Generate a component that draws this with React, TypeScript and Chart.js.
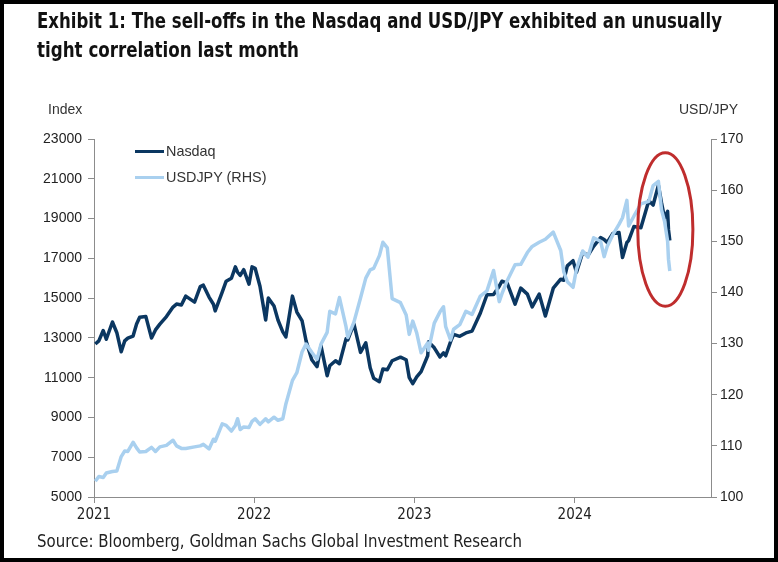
import React, { useEffect, useLayoutEffect, useRef } from "react";
import { Chart, registerables } from "chart.js";

Chart.register(...registerables);

const TITLE_LINES = [
  "Exhibit 1: The sell-offs in the Nasdaq and USD/JPY exhibited an unusually",
  "tight correlation last month",
];
const SOURCE = "Source: Bloomberg, Goldman Sachs Global Investment Research";

const DATES = [
  "2021-01-04", "2021-01-12", "2021-01-22", "2021-01-29", "2021-02-12", "2021-02-22",
  "2021-03-04", "2021-03-12", "2021-03-19", "2021-03-31", "2021-04-08", "2021-04-15", "2021-04-29",
  "2021-05-12", "2021-05-21", "2021-05-31", "2021-06-15", "2021-06-30", "2021-07-08",
  "2021-07-19", "2021-07-29", "2021-08-18", "2021-08-31", "2021-09-07", "2021-09-20",
  "2021-09-30", "2021-10-04", "2021-10-20", "2021-10-29", "2021-11-10", "2021-11-19",
  "2021-11-24", "2021-11-30", "2021-12-08", "2021-12-20", "2021-12-27",
  "2022-01-03", "2022-01-14", "2022-01-27", "2022-02-02", "2022-02-15", "2022-02-24",
  "2022-03-07", "2022-03-14", "2022-03-29", "2022-04-08", "2022-04-20", "2022-04-29",
  "2022-05-12", "2022-05-24", "2022-06-02", "2022-06-16", "2022-06-22", "2022-07-05",
  "2022-07-14", "2022-07-29", "2022-08-02", "2022-08-16", "2022-08-31", "2022-09-12",
  "2022-09-22", "2022-09-30", "2022-10-13", "2022-10-21", "2022-10-31", "2022-11-11",
  "2022-11-30", "2022-12-13", "2022-12-20", "2022-12-28",
  "2023-01-06", "2023-01-16", "2023-01-31", "2023-02-02", "2023-02-15", "2023-02-28",
  "2023-03-08", "2023-03-13", "2023-03-24", "2023-03-31", "2023-04-14", "2023-04-28",
  "2023-05-12", "2023-05-31", "2023-06-15", "2023-06-30", "2023-07-13", "2023-07-19",
  "2023-07-31", "2023-08-18", "2023-08-31", "2023-09-15", "2023-09-26", "2023-10-12",
  "2023-10-26", "2023-11-13", "2023-11-30", "2023-12-07", "2023-12-15", "2023-12-28",
  "2024-01-05", "2024-01-19", "2024-01-31", "2024-02-13", "2024-02-29", "2024-03-08",
  "2024-03-15", "2024-03-28", "2024-04-11", "2024-04-19", "2024-04-29", "2024-05-03",
  "2024-05-15", "2024-05-31", "2024-06-18", "2024-06-28", "2024-07-10", "2024-07-17",
  "2024-07-24", "2024-07-31", "2024-08-02", "2024-08-05",
];

const NASDAQ = [
  12690, 12850, 13370, 12930, 13800, 13260,
  12300, 12850, 12990, 13090, 13700, 14040, 14080,
  12990, 13400, 13690, 14070, 14550, 14700,
  14650, 15100, 14800, 15580, 15650, 15050,
  14690, 14360, 15300, 15850, 16000, 16570,
  16300, 16140, 16430, 15700, 16570,
  16500, 15600, 13900, 15000, 14600, 13900,
  13300, 13050, 15100, 14300, 13850, 12850,
  11900, 11550, 12600, 11100, 11600, 11850,
  11700, 12950, 12900, 13700, 12270, 12750,
  11500, 10970, 10800, 11440, 11400, 11850,
  12030, 11900, 11000, 10700,
  11040, 11300, 12100, 12800, 12500, 12040,
  12250, 12100, 12800, 13180, 13080, 13250,
  13340, 14250, 15170, 15180, 15600, 15850,
  15750, 14700, 15500, 15200, 14560, 15200,
  14100, 15500, 15950, 15900, 16620, 16880,
  16300, 17300, 17140, 17600, 18040, 17950,
  17800, 18250, 18300, 17040, 17800, 17890,
  18600, 18540, 19900, 19680, 20675, 19800,
  19030, 19360, 18440, 17900,
];

const USDJPY = [
  103.1, 104.0, 103.8, 104.7, 105.0, 105.1,
  107.9, 109.0, 108.9, 110.7, 109.6, 108.8, 108.9,
  109.7, 108.9, 109.8, 110.1, 111.1, 110.0,
  109.5, 109.5, 109.8, 110.0, 110.3, 109.4,
  111.3, 110.9, 114.3, 114.0, 112.9, 114.0,
  115.3, 113.2, 113.7, 113.6, 114.8,
  115.3, 114.2, 115.3, 114.7, 115.6, 115.0,
  115.3, 118.2, 122.8, 124.3, 128.4, 129.9,
  128.3, 126.9, 129.9, 132.2, 136.3, 135.8,
  139.0, 133.3, 131.2, 134.2, 138.9, 142.8,
  144.4, 144.7, 147.2, 149.8, 148.7, 138.8,
  138.0, 135.6, 131.8, 134.4,
  132.1, 128.2, 130.1, 128.7, 134.0, 136.2,
  137.2, 133.3, 130.7, 132.8, 133.7, 136.3,
  135.7, 139.3, 140.3, 144.3, 138.2, 139.7,
  142.3, 145.4, 145.5, 147.8, 149.0, 149.8,
  150.4, 151.8, 148.2, 144.0, 142.1, 141.0,
  144.6, 148.1, 146.9, 150.7, 150.0, 147.0,
  149.0, 151.3, 153.3, 154.6, 158.0, 153.0,
  154.9, 157.3, 157.8, 160.9, 161.7, 156.2,
  153.9, 150.0, 146.5, 144.2,
];

const YEAR_TICKS = [2021, 2022, 2023, 2024];
const X_MIN = 2021;
const X_MAX = 2024.85;
const LEFT_MIN = 5000;
const LEFT_MAX = 23000;
const LEFT_STEP = 2000;
const RIGHT_MIN = 100;
const RIGHT_MAX = 170;
const RIGHT_STEP = 10;

// Highlight ellipse in data units (x: year, y: USD/JPY axis)
const ELLIPSE = { cx: 2024.565, cy: 152.3, rx: 0.172, ry: 15.0 };

function toYear(s: string): number {
  const [y, m, d] = s.split("-").map(Number);
  const start = Date.UTC(y, 0, 1);
  const end = Date.UTC(y + 1, 0, 1);
  return y + (Date.UTC(y, m - 1, d) - start) / (end - start);
}

const AXIS_FONT = "'Liberation Sans', Arial, sans-serif";
const COND_FONT = "'Liberation Sans Narrow', 'DejaVu Sans Condensed', 'Roboto', sans-serif";

const ellipsePlugin = {
  id: "highlightEllipse",
  afterDatasetsDraw(chart: any) {
    const xs = chart.scales.x;
    const ys = chart.scales.y2;
    const cx = xs.getPixelForValue(ELLIPSE.cx);
    const cy = ys.getPixelForValue(ELLIPSE.cy);
    const rx = Math.abs(xs.getPixelForValue(ELLIPSE.cx + ELLIPSE.rx) - cx);
    const ry = Math.abs(ys.getPixelForValue(ELLIPSE.cy + ELLIPSE.ry) - cy);
    const ctx = chart.ctx;
    ctx.save();
    ctx.beginPath();
    ctx.ellipse(cx, cy, rx, ry, 0, 0, Math.PI * 2);
    ctx.strokeStyle = "#bf2d2d";
    ctx.lineWidth = 3;
    ctx.stroke();
    ctx.restore();
  },
};

function FitText({ text, width, style }: { text: string; width: number; style: React.CSSProperties }) {
  const ref = useRef<HTMLDivElement | null>(null);
  useLayoutEffect(() => {
    const el = ref.current;
    if (!el) return;
    el.style.transform = "none";
    const w = el.getBoundingClientRect().width;
    if (w > 0) el.style.transform = `scaleX(${width / w})`;
  }, [text, width]);
  return (
    <div ref={ref} style={{ ...style, position: "absolute", whiteSpace: "nowrap", transformOrigin: "left top", display: "inline-block" }}>
      {text}
    </div>
  );
}

export default function App() {
  const ref = useRef<HTMLCanvasElement | null>(null);

  useEffect(() => {
    document.body.style.margin = "0";
    const canvas = ref.current;
    if (!canvas) return;
    const xs = DATES.map(toYear);
    const chart = new Chart(canvas, {
      type: "line",
      data: {
        datasets: [
          {
            label: "USDJPY (RHS)",
            data: xs.map((x, i) => ({ x, y: USDJPY[i] })),
            yAxisID: "y2",
            borderColor: "#a9d0ef",
            borderWidth: 3.5,
            pointRadius: 0,
            tension: 0,
            borderJoinStyle: "round",
            order: 0,
          },
          {
            label: "Nasdaq",
            data: xs.map((x, i) => ({ x, y: NASDAQ[i] })),
            yAxisID: "y",
            borderColor: "#0b3761",
            borderWidth: 3.5,
            pointRadius: 0,
            tension: 0,
            borderJoinStyle: "round",
            order: 1,
          },
        ],
      },
      options: {
        animation: false,
        responsive: false,
        maintainAspectRatio: false,
        layout: { padding: { top: 139, left: 0, right: 0, bottom: 0 } },
        plugins: { legend: { display: false }, tooltip: { enabled: false } },
        scales: {
          x: {
            type: "linear",
            min: X_MIN,
            max: X_MAX,
            afterBuildTicks: (s: any) => {
              s.ticks = YEAR_TICKS.map((v) => ({ value: v }));
            },
            afterFit: (s: any) => {
              s.height = 65;
            },
            ticks: {
              callback: (v: any) => String(v),
              color: "#222",
              font: { family: COND_FONT, size: 15 },
              padding: 3,
              maxRotation: 0,
              autoSkip: false,
            },
            grid: { drawOnChartArea: false, tickLength: 6, color: "#8c8c8c" },
            border: { color: "#8c8c8c" },
          },
          y: {
            position: "left",
            min: LEFT_MIN,
            max: LEFT_MAX,
            afterFit: (s: any) => {
              s.width = 94;
            },
            ticks: {
              stepSize: LEFT_STEP,
              callback: (v: any) => String(v),
              color: "#222",
              font: { family: AXIS_FONT, size: 14 },
              padding: 6,
            },
            grid: { drawOnChartArea: false, tickLength: 6, color: "#8c8c8c" },
            border: { color: "#8c8c8c" },
          },
          y2: {
            position: "right",
            min: RIGHT_MIN,
            max: RIGHT_MAX,
            afterFit: (s: any) => {
              s.width = 67;
            },
            ticks: {
              stepSize: RIGHT_STEP,
              callback: (v: any) => String(v),
              color: "#222",
              font: { family: AXIS_FONT, size: 14 },
              padding: 3,
            },
            grid: { drawOnChartArea: false, tickLength: 6, color: "#8c8c8c" },
            border: { color: "#8c8c8c" },
          },
        },
      },
      plugins: [ellipsePlugin],
    });
    return () => chart.destroy();
  }, []);

  const textBase: React.CSSProperties = { position: "absolute", whiteSpace: "nowrap", lineHeight: 1 };
  const titleStyle: React.CSSProperties = { fontFamily: COND_FONT, fontWeight: 700, fontSize: 21, color: "#111", lineHeight: "24px", left: 37 };

  return (
    <div style={{ position: "absolute", left: 0, top: 0, width: 778, height: 562, background: "#fff", overflow: "hidden" }}>
      <canvas ref={ref} width={778} height={562} style={{ position: "absolute", left: 0, top: 0, width: 778, height: 562 }} />
      <FitText text={TITLE_LINES[0]} width={685} style={{ ...titleStyle, top: 9 }} />
      <FitText text={TITLE_LINES[1]} width={262} style={{ ...titleStyle, top: 38 }} />
      <div style={{ ...textBase, left: 48, top: 102, fontFamily: AXIS_FONT, fontSize: 14, color: "#333" }}>Index</div>
      <div style={{ ...textBase, left: 679, top: 102, fontFamily: AXIS_FONT, fontSize: 14, color: "#333" }}>USD/JPY</div>
      <div style={{ position: "absolute", left: 135, top: 150, width: 29, height: 3, background: "#0b3761" }} />
      <div style={{ ...textBase, left: 166, top: 144, fontFamily: AXIS_FONT, fontSize: 14.4, color: "#333" }}>Nasdaq</div>
      <div style={{ position: "absolute", left: 135, top: 176, width: 29, height: 3, background: "#a9d0ef" }} />
      <div style={{ ...textBase, left: 166, top: 170, fontFamily: AXIS_FONT, fontSize: 14.4, color: "#333" }}>USDJPY (RHS)</div>
      <FitText text={SOURCE} width={485} style={{ fontFamily: COND_FONT, fontSize: 18, color: "#222", lineHeight: "20px", left: 37, top: 531 }} />
      <div style={{ position: "absolute", left: 0, top: 0, width: 778, height: 562, boxSizing: "border-box", border: "4px solid #000", pointerEvents: "none" }} />
    </div>
  );
}
